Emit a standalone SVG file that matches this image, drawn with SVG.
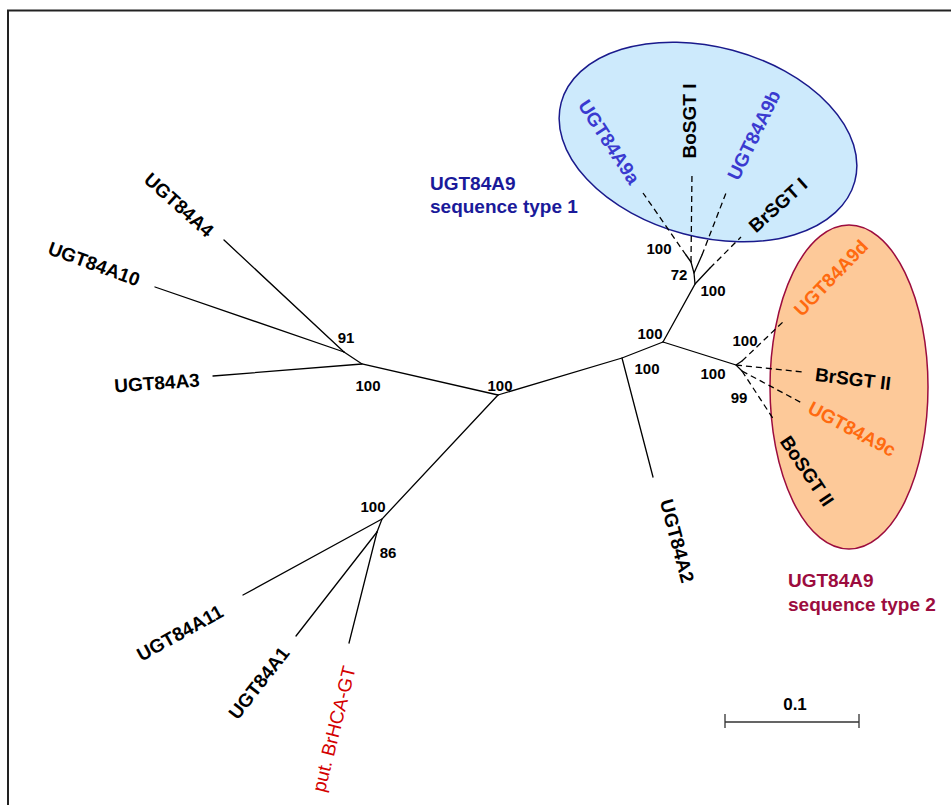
<svg xmlns="http://www.w3.org/2000/svg" width="951" height="805" viewBox="0 0 951 805">
<style>
.br{fill:none;stroke:#000;stroke-width:1.3;stroke-linecap:round}
.dash{fill:none;stroke:#000;stroke-width:1.3;stroke-dasharray:6,4}
.lab{font-family:"Liberation Sans",Arial,sans-serif;font-size:19px;font-weight:bold;fill:#000;text-anchor:middle;dominant-baseline:central}
.num{font-family:"Liberation Sans",Arial,sans-serif;font-size:15px;font-weight:bold;fill:#000;text-anchor:middle;dominant-baseline:central}
.blue{fill:#3a3ad0}
.orange{fill:#ff6a10}
.red{fill:#d40000;font-weight:normal}
.title1{font-family:"Liberation Sans",Arial,sans-serif;font-size:19px;font-weight:bold;fill:#1a1a9a}
.title2{font-family:"Liberation Sans",Arial,sans-serif;font-size:19px;font-weight:bold;fill:#9c0c3e}
</style>
<rect width="951" height="805" fill="#fff"/>
<path d="M8,805 V10.5 H951" fill="none" stroke="#222" stroke-width="2"/>

<g id="group-type1">
<ellipse cx="708" cy="142" rx="152" ry="95" transform="rotate(15 708 142)" fill="#cdeafc" stroke="#1a1a8c" stroke-width="1.5"/>
</g>
<g id="group-type2">
<ellipse cx="849" cy="387" rx="79" ry="162" fill="#fdc999" stroke="#9c0c3e" stroke-width="1.5"/>
</g>

<g id="connectors">
<path class="br" d="M498,395 L362,364 L344,352"/>
<path class="br" d="M344,352 L224,240"/>
<path class="br" d="M344,352 L155,287"/>
<path class="br" d="M362,364 L213,376"/>
<path class="br" d="M498,395 L622,358 L663,342"/>
<path class="br" d="M622,358 L653,477"/>
<path class="br" d="M663,342 L695,284 L694,273 L691,262"/>
<path class="br" d="M695,284 L710,268"/>
<path class="br" d="M694,273 L702,255"/>
<path class="br" d="M691,262 L686,255"/>
<path class="dash" d="M686,255 L643,193"/>
<path class="dash" d="M691,262 L692,172"/>
<path class="dash" d="M702,255 L726,193"/>
<path class="dash" d="M710,268 L741,237"/>
<path class="br" d="M663,342 L736,365 L742,371"/>
<path class="br" d="M736,365 L742,361"/>
<path class="dash" d="M742,361 L785,320"/>
<path class="dash" d="M736,365 L803,372"/>
<path class="dash" d="M742,371 L802,403"/>
<path class="dash" d="M742,371 L774,420"/>
<path class="br" d="M498,395 L382,519 L377,532"/>
<path class="br" d="M382,519 L243,595"/>
<path class="br" d="M377,532 L296,636"/>
<path class="br" d="M377,532 L349,643"/>
</g>

<g id="n-UGT84A4"><text class="lab" transform="translate(179,205) rotate(42)">UGT84A4</text></g>
<g id="n-UGT84A10"><text class="lab" transform="translate(94,264) rotate(20)">UGT84A10</text></g>
<g id="n-UGT84A3"><text class="lab" transform="translate(157,383) rotate(-4)">UGT84A3</text></g>
<g id="n-UGT84A2"><text class="lab" transform="translate(677,541) rotate(75)">UGT84A2</text></g>
<g id="n-UGT84A11"><text class="lab" transform="translate(180,633) rotate(-29)">UGT84A11</text></g>
<g id="n-UGT84A1"><text class="lab" transform="translate(259,683) rotate(-52)">UGT84A1</text></g>
<g id="n-BrHCA"><text class="lab red" transform="translate(334,729) rotate(-76)">put. BrHCA-GT</text></g>
<g id="n-UGT84A9a"><text class="lab blue" transform="translate(609,142) rotate(57)">UGT84A9a</text></g>
<g id="n-BoSGTI"><text class="lab" transform="translate(689,121) rotate(-90)">BoSGT I</text></g>
<g id="n-UGT84A9b"><text class="lab blue" transform="translate(754,135) rotate(-64)">UGT84A9b</text></g>
<g id="n-BrSGTI"><text class="lab" transform="translate(778,205) rotate(-42)">BrSGT I</text></g>
<g id="n-UGT84A9d"><text class="lab orange" transform="translate(831,278) rotate(-46)">UGT84A9d</text></g>
<g id="n-BrSGTII"><text class="lab" transform="translate(853,379) rotate(7)">BrSGT II</text></g>
<g id="n-UGT84A9c"><text class="lab orange" transform="translate(852,429) rotate(28)">UGT84A9c</text></g>
<g id="n-BoSGTII"><text class="lab" transform="translate(807,471) rotate(56)">BoSGT II</text></g>

<g id="bootstrap">
<text class="num" x="346" y="337">91</text>
<text class="num" x="368" y="385">100</text>
<text class="num" x="500" y="385">100</text>
<text class="num" x="650" y="333">100</text>
<text class="num" x="647" y="368">100</text>
<text class="num" x="659" y="248">100</text>
<text class="num" x="679" y="274">72</text>
<text class="num" x="713" y="290">100</text>
<text class="num" x="745" y="340">100</text>
<text class="num" x="713" y="373">100</text>
<text class="num" x="739" y="397">99</text>
<text class="num" x="373" y="506">100</text>
<text class="num" x="388" y="552">86</text>
</g>

<g id="title-type1">
<text class="title1" x="430" y="190">UGT84A9</text>
<text class="title1" x="430" y="213">sequence type 1</text>
</g>
<g id="title-type2">
<text class="title2" x="788" y="587">UGT84A9</text>
<text class="title2" x="788" y="611">sequence type 2</text>
</g>

<g id="scalebar">
<path d="M725,722 H859 M725,714 V728 M859,714 V728" fill="none" stroke="#333" stroke-width="1.3"/>
<text class="num" x="795" y="704" style="font-size:17px">0.1</text>
</g>
</svg>
